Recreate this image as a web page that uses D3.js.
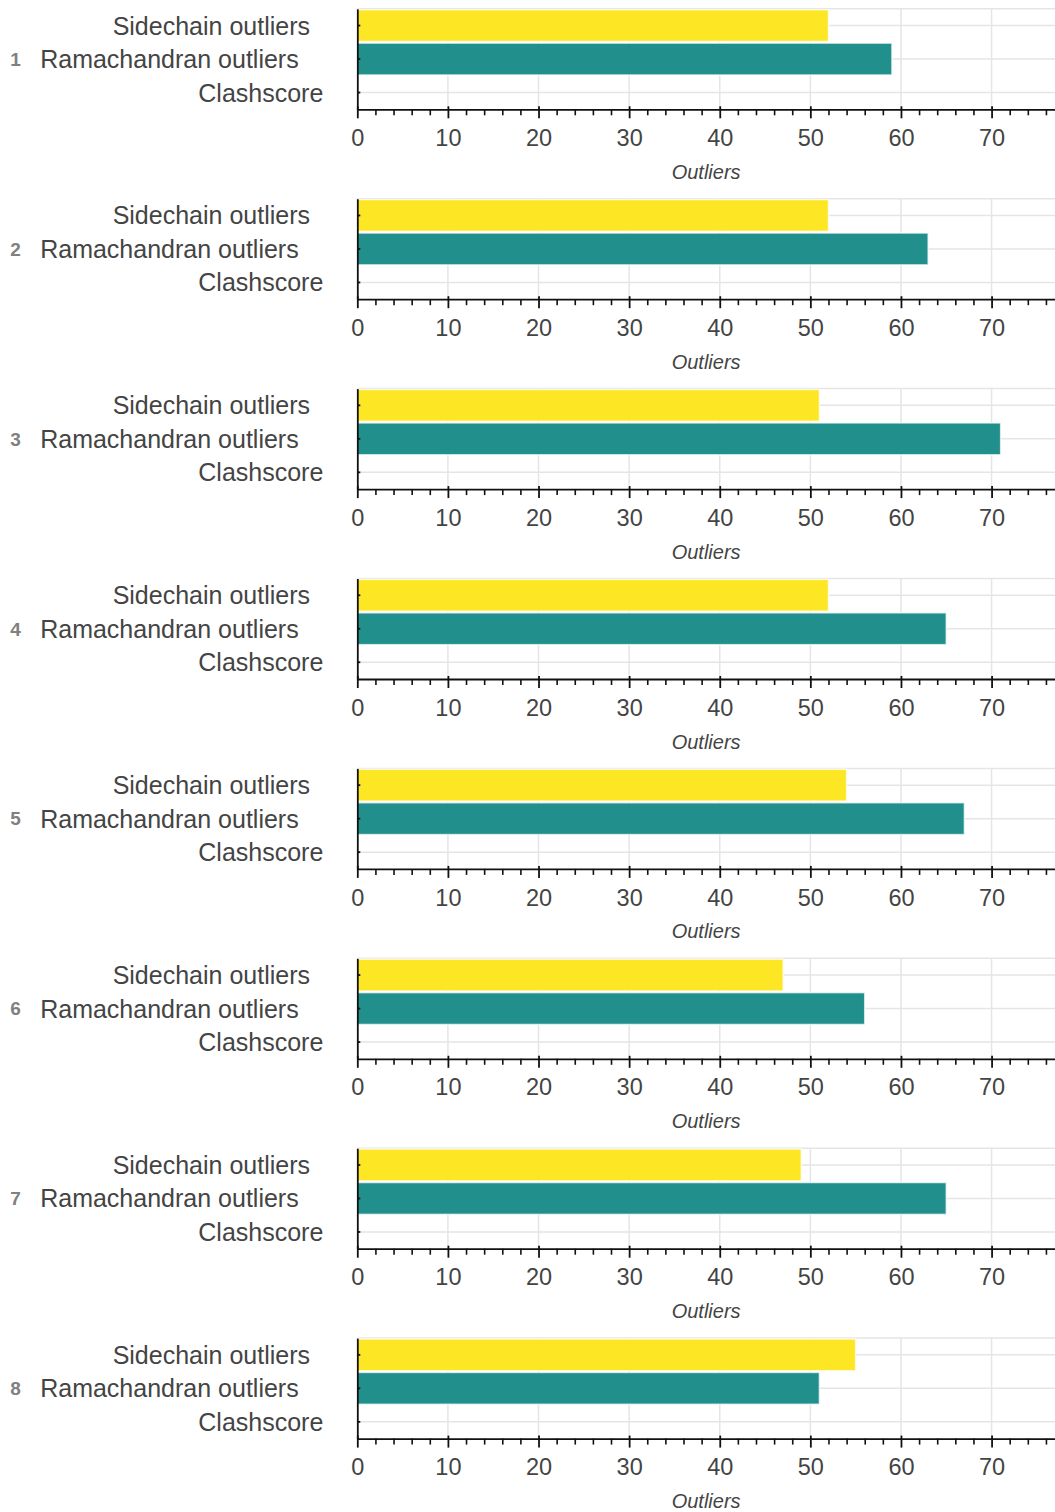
<!DOCTYPE html>
<html>
<head>
<meta charset="utf-8">
<script src="https://cdn.jsdelivr.net/npm/d3@7"></script>
<style>
  html, body { margin: 0; padding: 0; background: #fff; }
  svg { display: block; }
  text { font-family: "Liberation Sans", Arial, Helvetica, sans-serif; }
</style>
</head>
<body>
<svg id="chart" width="1055" height="1512"></svg>
<script>
// Validation metrics per model
const models = ["1", "2", "3", "4", "5", "6", "7", "8"];
const categories = ["Sidechain outliers", "Ramachandran outliers", "Clashscore"];
const sidechainOutliers = [52, 52, 51, 52, 54, 47, 49, 55];
const ramachandranOutliers = [59, 63, 71, 65, 67, 56, 65, 51];
const clashscore = [0, 0, 0, 0, 0, 0, 0, 0];
const majorTicks = [0, 10, 20, 30, 40, 50, 60, 70];
const axisTitle = "Outliers";

const seriesByCategory = {
  "Sidechain outliers": sidechainOutliers,
  "Ramachandran outliers": ramachandranOutliers,
  "Clashscore": clashscore
};
const colorScale = d3.scaleOrdinal()
  .domain(categories)
  .range(["#fde725", "#21908d", "#440154"]);

// layout
const W = 1055;
const panelStep = 189.9;
const plotLeft = 357.3, plotRight = 1055;
const plotTop = 8.8, plotBottom = 109.3;
const xMax = 77;
const gridColor = "#e5e5e5";
const textColor = "#444444";

const svg = d3.select("#chart");
svg.append("rect").attr("width", W).attr("height", 1512).attr("fill", "#fff");

const x = d3.scaleLinear().domain([0, xMax]).range([plotLeft, plotRight]);
const minorTicks = d3.range(0, xMax + 0.001, 2).filter(v => v % 10 !== 0);

models.forEach((model, i) => {
  const g = svg.append("g").attr("transform", `translate(0,${i * panelStep})`);
  const y = d3.scaleBand().domain(categories).range([plotTop, plotBottom]).padding(0);

  // frame top outline
  g.append("line")
    .attr("x1", plotLeft).attr("x2", plotRight)
    .attr("y1", plotTop).attr("y2", plotTop)
    .attr("stroke", gridColor).attr("stroke-width", 1.5);

  // grid
  g.append("g").selectAll("line")
    .data(majorTicks.filter(v => v > 0))
    .join("line")
    .attr("x1", d => x(d)).attr("x2", d => x(d))
    .attr("y1", plotTop).attr("y2", plotBottom)
    .attr("stroke", gridColor).attr("stroke-width", 1.5);
  g.append("g").selectAll("line")
    .data(categories)
    .join("line")
    .attr("x1", plotLeft).attr("x2", plotRight)
    .attr("y1", d => y(d) + y.bandwidth() / 2).attr("y2", d => y(d) + y.bandwidth() / 2)
    .attr("stroke", gridColor).attr("stroke-width", 1.5);

  // bars
  const rows = categories.map(c => ({ cat: c, value: seriesByCategory[c][i] }));
  const barH = y.bandwidth() * 0.95;
  g.append("g").selectAll("rect")
    .data(rows.filter(r => r.value > 0))
    .join("rect")
    .attr("x", x(0))
    .attr("y", d => y(d.cat) + (y.bandwidth() - barH) / 2)
    .attr("width", d => x(d.value) - x(0))
    .attr("height", barH)
    .attr("fill", d => colorScale(d.cat))
    .attr("stroke", "#ffffff")
    .attr("stroke-opacity", 0.7)
    .attr("stroke-width", 1.5);

  // x axis: major ticks
  const xAxis = g.append("g")
    .attr("transform", `translate(0,${plotBottom})`)
    .call(d3.axisBottom(x).tickValues(majorTicks).tickSizeInner(9).tickSizeOuter(0).tickPadding(11));
  xAxis.select(".domain").attr("stroke", "#111").attr("stroke-width", 1.8);
  xAxis.selectAll(".tick line").attr("y1", -3).attr("stroke", "#111").attr("stroke-width", 1.8);
  xAxis.selectAll(".tick text")
    .attr("fill", textColor)
    .style("font-size", "23.5px")
    .attr("dy", "0.71em");
  // minor ticks
  const xMinor = g.append("g")
    .attr("transform", `translate(0,${plotBottom})`)
    .call(d3.axisBottom(x).tickValues(minorTicks).tickSizeInner(6).tickSizeOuter(0).tickFormat(""));
  xMinor.select(".domain").remove();
  xMinor.selectAll(".tick line").attr("stroke", "#111").attr("stroke-width", 1.6);

  // axis title
  g.append("text")
    .attr("x", (plotLeft + plotRight) / 2)
    .attr("y", plotBottom + 69.6)
    .attr("text-anchor", "middle")
    .attr("fill", textColor)
    .style("font-size", "20px")
    .style("font-style", "italic")
    .text(axisTitle);

  // y axis
  const yAxis = g.append("g")
    .attr("transform", `translate(${plotLeft},0)`)
    .call(d3.axisLeft(y).tickSizeInner(9).tickSizeOuter(0).tickFormat(""));
  yAxis.select(".domain").attr("stroke", "#111").attr("stroke-width", 1.8);
  yAxis.selectAll(".tick line").attr("x2", 3).attr("stroke", "#111").attr("stroke-width", 1.8);

  // category labels
  const labels = g.append("g").selectAll("text")
    .data(categories)
    .join("text")
    .attr("y", d => y(d) + y.bandwidth() / 2)
    .attr("dy", "0.36em")
    .attr("text-anchor", "end")
    .attr("fill", textColor)
    .style("font-size", "25px")
    .text(d => d);
  labels.attr("x", function () {
    const w = this.getComputedTextLength();
    return 346.5 - 0.185 * w;
  });

  // group (model) label
  g.append("text")
    .attr("x", 15.5)
    .attr("y", y(categories[1]) + y.bandwidth() / 2)
    .attr("dy", "0.36em")
    .attr("text-anchor", "middle")
    .attr("fill", "#808080")
    .style("font-size", "19px")
    .style("font-weight", "bold")
    .text(model);
});
</script>
</body>
</html>
